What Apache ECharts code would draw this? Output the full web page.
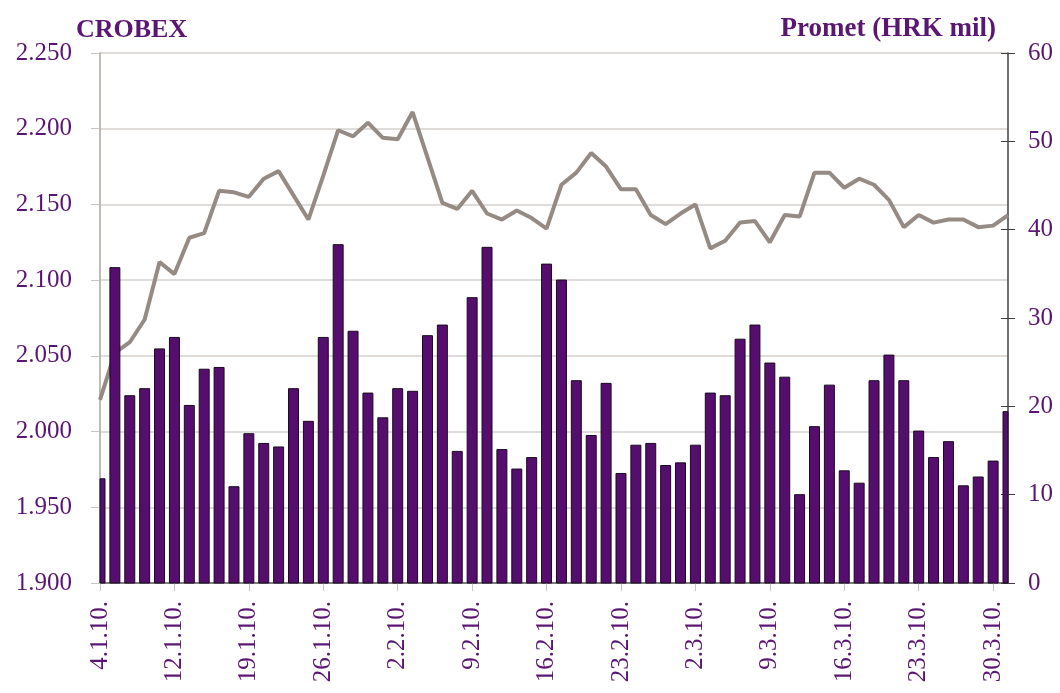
<!DOCTYPE html>
<html>
<head>
<meta charset="utf-8">
<script src="https://cdn.jsdelivr.net/npm/echarts@6/dist/echarts.min.js"></script>
<style>
  html, body { margin: 0; padding: 0; background: #fff; }
  #chart { width: 1060px; height: 693px; }
</style>
</head>
<body>
<div id="chart"></div>
<script>
// trading days, 4.1.2010 - 31.3.2010
const dates = [
  '4.1.10.', '5.1.10.', '7.1.10.', '8.1.10.', '11.1.10.',
  '12.1.10.', '13.1.10.', '14.1.10.', '15.1.10.', '18.1.10.',
  '19.1.10.', '20.1.10.', '21.1.10.', '22.1.10.', '25.1.10.',
  '26.1.10.', '27.1.10.', '28.1.10.', '29.1.10.', '1.2.10.',
  '2.2.10.', '3.2.10.', '4.2.10.', '5.2.10.', '8.2.10.',
  '9.2.10.', '10.2.10.', '11.2.10.', '12.2.10.', '15.2.10.',
  '16.2.10.', '17.2.10.', '18.2.10.', '19.2.10.', '22.2.10.',
  '23.2.10.', '24.2.10.', '25.2.10.', '26.2.10.', '1.3.10.',
  '2.3.10.', '3.3.10.', '4.3.10.', '5.3.10.', '8.3.10.',
  '9.3.10.', '10.3.10.', '11.3.10.', '12.3.10.', '15.3.10.',
  '16.3.10.', '17.3.10.', '18.3.10.', '19.3.10.', '22.3.10.',
  '23.3.10.', '24.3.10.', '25.3.10.', '26.3.10.', '29.3.10.',
  '30.3.10.', '31.3.10.'
]

// CROBEX index points
const crobex = [
  2021, 2052, 2059, 2074, 2112, 2104, 2128, 2131, 2159, 2158,
  2155, 2167, 2172, 2156, 2140, 2169, 2199, 2195, 2204, 2194,
  2193, 2211, 2181, 2151, 2147, 2159, 2144, 2140, 2146, 2141,
  2134, 2163, 2171, 2184, 2175, 2160, 2160, 2143, 2137, 2144,
  2150, 2121, 2126, 2138, 2139, 2125, 2143, 2142, 2171, 2171,
  2161, 2167, 2163, 2153, 2135, 2143, 2138, 2140, 2140, 2135,
  2136, 2143
]

// turnover, HRK mil
const promet = [
  11.8, 35.7, 21.2, 22.0, 26.5, 27.8, 20.1, 24.2, 24.4, 10.9,
  16.9, 15.8, 15.4, 22.0, 18.3, 27.8, 38.3, 28.5, 21.5, 18.7,
  22.0, 21.7, 28.0, 29.2, 14.9, 32.3, 38.0, 15.1, 12.9, 14.2,
  36.1, 34.3, 22.9, 16.7, 22.6, 12.4, 15.6, 15.8, 13.3, 13.6,
  15.6, 21.5, 21.2, 27.6, 29.2, 24.9, 23.3, 10.0, 17.7, 22.4,
  12.7, 11.3, 22.9, 25.8, 22.9, 17.2, 14.2, 16.0, 11.0, 12.0,
  13.8, 19.4
]

const purple = '#5a1672'
const font = 'Liberation Serif'

const fmtThousands = (v) => {
  return Math.floor(v / 1000) + '.' + String(v % 1000).padStart(3, '0')
}

// bars sit on the ticks (Excel style) and get cut at the plot edges
const renderBar = (params, api) => {
  const top = api.coord([api.value(0), api.value(1)])
  const base = api.coord([api.value(0), 0])
  const w = api.size([1, 0])[0] * 0.67
  const cs = params.coordSys
  const rect = echarts.graphic.clipRectByRect(
    { x: top[0] - w / 2, y: top[1], width: w, height: base[1] - top[1] },
    { x: cs.x, y: cs.y, width: cs.width, height: cs.height }
  )
  if (!rect) return null
  return {
    type: 'rect',
    shape: rect,
    style: { fill: '#560e6e', stroke: '#1a0a1e', lineWidth: 1 }
  }
}

const myChart = echarts.init(document.getElementById('chart'), null, { renderer: 'canvas' })

myChart.setOption({
  animation: false,
  title: [
    {
      text: 'CROBEX',
      left: 71,
      top: 12,
      textStyle: { color: purple, fontFamily: font, fontWeight: 'bold', fontSize: 26 }
    },
    {
      text: 'Promet (HRK mil)',
      right: 59,
      top: 11,
      textStyle: { color: purple, fontFamily: font, fontWeight: 'bold', fontSize: 27 }
    }
  ],
  grid: { left: 100, right: 52, top: 53, bottom: 110 },
  xAxis: [
    {
      type: 'category',
      data: dates,
      boundaryGap: false,
      axisLine: { lineStyle: { color: '#a9a39e', width: 1.5 } },
      axisTick: { interval: 4, length: 8, lineStyle: { color: '#c9c5c1' } },
      axisLabel: {
        interval: 4,
        rotate: 90,
        margin: 18,
        color: purple,
        fontFamily: font,
        fontSize: 25
      },
      splitLine: { show: false }
    },
    {
      // dark frame line along the top of the plot
      type: 'category',
      data: dates,
      boundaryGap: false,
      position: 'top',
      axisLine: { lineStyle: { color: '#7f7f7f', width: 2 } },
      axisTick: { show: false },
      axisLabel: { show: false }
    }
  ],
  yAxis: [
    {
      type: 'value',
      position: 'left',
      min: 1900,
      max: 2250,
      interval: 50,
      axisLine: { show: true, lineStyle: { color: '#a9a39e', width: 1.5 } },
      axisTick: { show: true, length: 9, lineStyle: { color: '#c9c5c1' } },
      axisLabel: {
        margin: 28,
        color: purple,
        fontFamily: font,
        fontSize: 25,
        formatter: fmtThousands
      },
      splitLine: { lineStyle: { color: '#d5d1cd', width: 1.5 } }
    },
    {
      type: 'value',
      position: 'right',
      min: 0,
      max: 60,
      interval: 10,
      axisLine: { show: true, lineStyle: { color: '#3f3f3f', width: 1.5 } },
      axisTick: { show: true, length: 7, lineStyle: { color: '#3f3f3f' } },
      axisLabel: {
        margin: 20,
        color: purple,
        fontFamily: font,
        fontSize: 25
      },
      splitLine: { show: false }
    },
    {
      // inner half of the crossing ticks on the right axis
      type: 'value',
      position: 'right',
      min: 0,
      max: 60,
      interval: 10,
      axisLine: { show: false },
      axisTick: { show: true, inside: true, length: 7, lineStyle: { color: '#3f3f3f' } },
      axisLabel: { show: false },
      splitLine: { show: false }
    }
  ],
  series: [
    {
      name: 'CROBEX',
      type: 'line',
      yAxisIndex: 0,
      data: crobex,
      symbol: 'none',
      z: 2,
      lineStyle: { color: '#958b84', width: 4 }
    },
    {
      name: 'Promet',
      type: 'custom',
      yAxisIndex: 1,
      data: promet.map((v, i) => [i, v]),
      encode: { x: 0, y: 1 },
      renderItem: renderBar,
      z: 3
    }
  ]
})
</script>
</body>
</html>
